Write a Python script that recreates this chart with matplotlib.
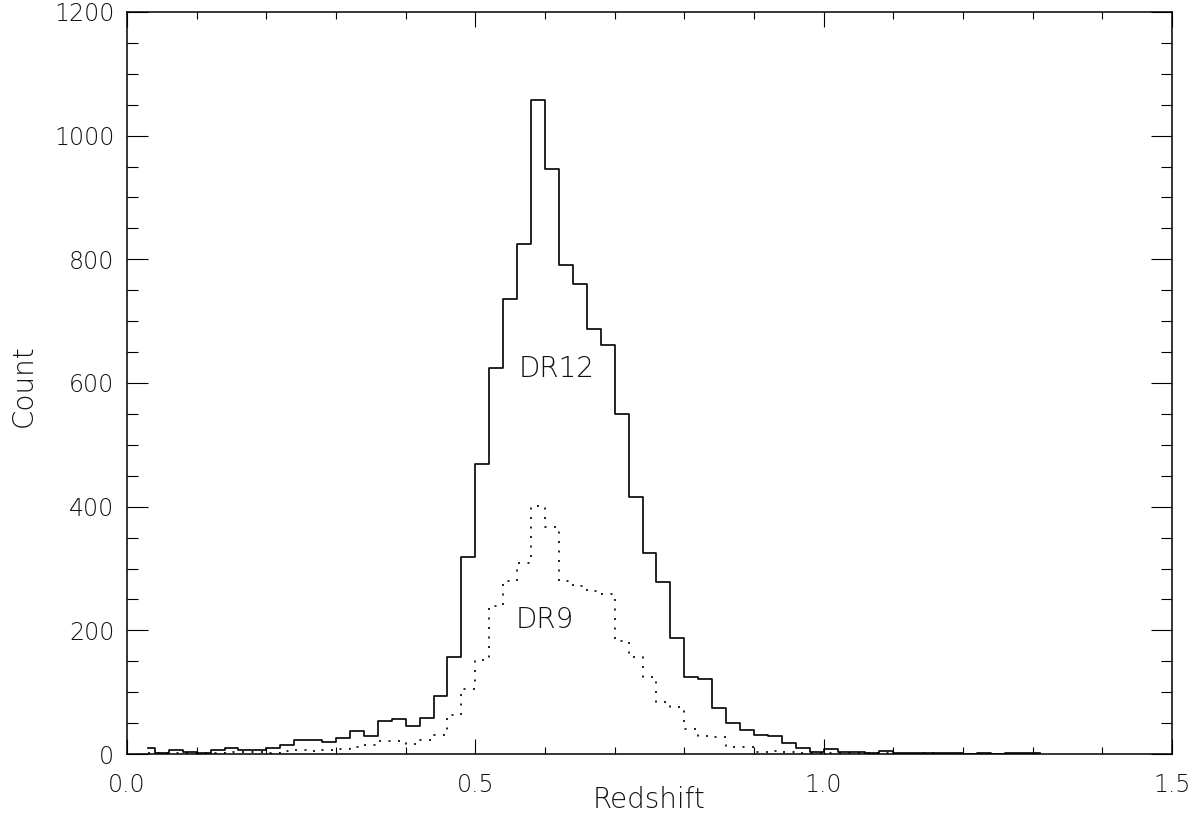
import matplotlib
matplotlib.use('Agg')
import numpy as np
from matplotlib import pyplot as plt
from matplotlib.ticker import MultipleLocator, FormatStrFormatter

# bin centres (width 0.02) and counts
z_centres = np.round(np.arange(0.03, 1.3101, 0.02), 2)
dr12 = [9, 2, 6, 4, 2, 7, 9, 6, 7, 10, 15, 22, 22, 20, 26, 38, 29, 54, 56, 45,
        59, 93, 157, 318, 469, 624, 736, 824, 1058, 946, 791, 760, 688, 662,
        550, 416, 325, 278, 188, 125, 121, 74, 50, 39, 31, 29, 18, 10, 4, 8,
        4, 3, 2, 5, 1, 1, 2, 1, 2, 0, 1, 0, 1, 1, 1]
dr9 = [2, 1, 2, 1, 2, 1, 3, 4, 4, 2, 5, 7, 5, 7, 8, 12, 14, 21, 21, 16,
       22, 31, 63, 105, 152, 239, 279, 309, 401, 367, 280, 271, 264, 259,
       183, 157, 125, 84, 76, 40, 29, 28, 12, 11, 4, 5, 4, 2, 2, 2,
       1, 1, 1, 1, 0, 0, 1, 0, 0, 0, 0, 0, 0, 0, 0]

plt.rcParams['font.family'] = ['DejaVu Sans']
txt_col = '#111111'

fig = plt.figure(figsize=(11.94, 8.21), dpi=100)
ax = fig.add_axes([127/1194, 67/821, 1045/1194, 742/821])

ax.step(z_centres, dr12, where='mid', color='black', lw=1.2)
ax.step(z_centres, dr9, where='mid', color='black', lw=1.2,
        linestyle=(0, (1.2, 4.5)))

ax.set_xlim(0, 1.5)
ax.set_ylim(0, 1200)
ax.xaxis.set_major_locator(MultipleLocator(0.5))
ax.xaxis.set_minor_locator(MultipleLocator(0.1))
ax.yaxis.set_major_locator(MultipleLocator(200))
ax.yaxis.set_minor_locator(MultipleLocator(50))
ax.xaxis.set_major_formatter(FormatStrFormatter('%.1f'))

# IDL style ticks: inward, on all four sides
ax.tick_params(axis='x', which='major', direction='in', length=10.7, width=0.8,
               top=True, bottom=True, labelsize=17, pad=14, labelcolor=txt_col)
ax.tick_params(axis='x', which='minor', direction='in', length=5.3, width=0.8,
               top=True, bottom=True)
ax.tick_params(axis='y', which='major', direction='in', length=15, width=0.8,
               left=True, right=True, labelsize=17, pad=9, labelcolor=txt_col)
ax.tick_params(axis='y', which='minor', direction='in', length=7.6, width=0.8,
               left=True, right=True)
for s in ax.spines.values():
    s.set_linewidth(1.1)

for lab in ax.get_xticklabels() + ax.get_yticklabels():
    lab.set_fontweight('light')

ax.set_xlabel('Redshift', fontsize=20, fontweight='light', color=txt_col, va='center')
ax.set_ylabel('Count', fontsize=20, fontweight='light', color=txt_col, va='center')
ax.xaxis.set_label_coords(0.4995, -0.062)
ax.yaxis.set_label_coords(-0.0986, 0.496)

ax.text(0.617, 622, 'DR12', fontsize=20, fontweight='light', color=txt_col,
        ha='center', va='center')
ax.text(0.599, 217, 'DR9', fontsize=20, fontweight='light', color=txt_col,
        ha='center', va='center')

fig.savefig('out.png', dpi=100)
